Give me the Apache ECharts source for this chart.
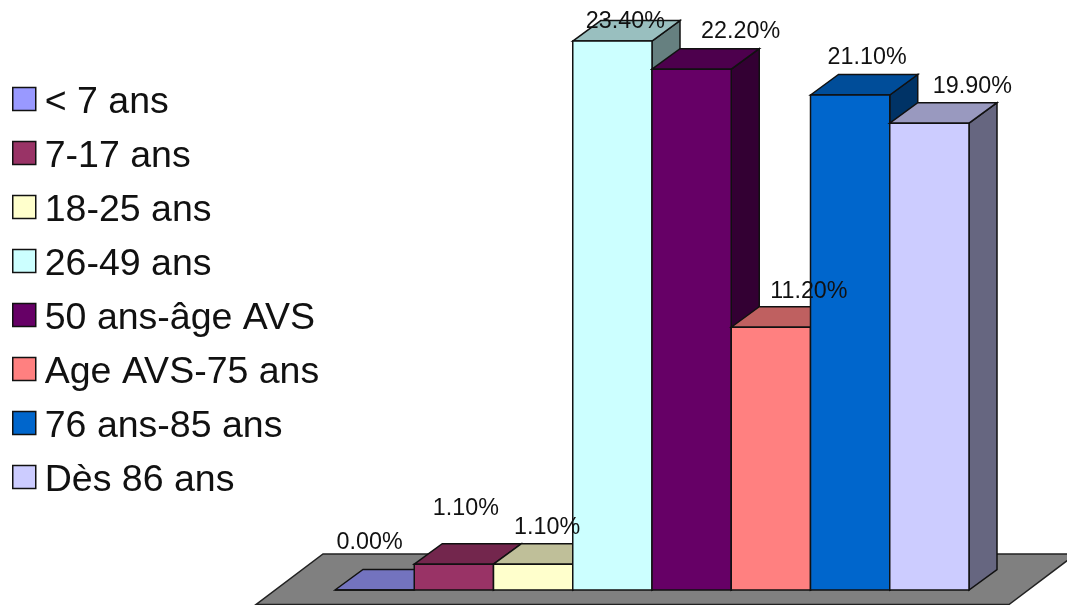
<!DOCTYPE html>
<html>
<head>
<meta charset="utf-8">
<style>html,body{margin:0;padding:0;background:#fff}#c{width:1067px;height:605px}</style>
<script src="https://cdn.jsdelivr.net/npm/echarts@6/dist/echarts.min.js"></script>
</head>
<body>
<div id="c"></div>
<script>
const categories = ['< 7 ans','7-17 ans','18-25 ans','26-49 ans','50 ans-âge AVS','Age AVS-75 ans','76 ans-85 ans','Dès 86 ans'];
const values = [0.0, 1.1, 1.1, 23.4, 22.2, 11.2, 21.1, 19.9];
const valueLabels = ['0.00%','1.10%','1.10%','23.40%','22.20%','11.20%','21.10%','19.90%'];
const colors = ['#9999FF','#993366','#FFFFCC','#CCFFFF','#660066','#FF8080','#0066CC','#CCCCFF'];
// hand placement of each value label, relative to the front-top centre of its bar
const labelNudgeX = [-5, 12, 14, 13, 49, 38, 17, 43];
const labelNudgeY = [-47, -56, -37, -19, -38, -36, -37, -37];

const DEPTH_X = 28, DEPTH_Y = -20.5;
const FONT = '"Liberation Sans", Arial, sans-serif';
const EDGE = '#111';

function shade(hex, f) {
  const n = parseInt(hex.slice(1), 16);
  const c = s => Math.round(((n >> s) & 255) * f);
  return 'rgb(' + c(16) + ',' + c(8) + ',' + c(0) + ')';
}
function poly(points, fill, stroke, w) {
  return { type: 'polygon', shape: { points }, style: { fill, stroke, lineWidth: w } };
}
function barItem(color) {
  return function (params, api) {
    const i = api.value(0), top = api.coord([i, api.value(1)]), base = api.coord([i, 0]);
    const half = api.size([1, 0])[0] / 2;
    const l = top[0] - half, r = top[0] + half, t = top[1], b = base[1];
    const children = [
      poly([[r, t], [r + DEPTH_X, t + DEPTH_Y], [r + DEPTH_X, b + DEPTH_Y], [r, b]], shade(color, 0.5), EDGE, 1.5),
      poly([[l, t], [l + DEPTH_X, t + DEPTH_Y], [r + DEPTH_X, t + DEPTH_Y], [r, t]], shade(color, 0.75), EDGE, 1.5),
      poly([[l, t], [r, t], [r, b], [l, b]], color, EDGE, 1.5)
    ];
    return { type: 'group', children };
  };
}
function floorItem(params, api) {
  const first = api.coord([0, 0]), last = api.coord([categories.length - 1, 0]);
  const half = api.size([1, 0])[0] / 2;
  const l = first[0] - half, r = last[0] + half, b = first[1];
  return poly([
    [l - 79, b + 14.5], [r + 40, b + 14.5],
    [r + 107, b - 36], [l - 12, b - 36]
  ], '#808080', '#222', 1.5);
}
function labelItem(params, api) {
  const i = api.value(0), p = api.coord([i, api.value(1)]);
  return {
    type: 'text',
    style: {
      x: p[0] + labelNudgeX[i], y: p[1] + labelNudgeY[i],
      text: valueLabels[i], align: 'center', verticalAlign: 'middle',
      font: '23.3px ' + FONT, fill: '#111'
    }
  };
}

const points = values.map((v, i) => [i, v]);
const series = [
  { type: 'custom', name: 'floor', z: 1, silent: true, renderItem: floorItem, data: [[0, 0]], encode: { x: 0, y: 1 } }
].concat(categories.map((name, i) => ({
  type: 'custom', name, z: 2, silent: true,
  itemStyle: { color: colors[i] },
  renderItem: barItem(colors[i]),
  data: [points[i]], encode: { x: 0, y: 1 }
}))).concat([
  { type: 'custom', name: 'labels', z: 5, silent: true, renderItem: labelItem, data: points, encode: { x: 0, y: 1 } }
]);

const chart = echarts.init(document.getElementById('c'), null, { renderer: 'canvas' });
chart.setOption({
  animation: false,
  backgroundColor: '#fff',
  grid: { left: 335, width: 634, top: 3.5, height: 586.5 },
  xAxis: { type: 'category', data: categories, show: false },
  yAxis: { type: 'value', min: 0, max: 25, show: false },
  legend: {
    orient: 'vertical', left: 12, top: 76.5, padding: 0,
    itemWidth: 23, itemHeight: 23, itemGap: 9, selectedMode: false,
    formatter: name => '{t|' + name + '}',
    textStyle: {
      fontFamily: FONT, fontSize: 37.5, lineHeight: 30, color: '#111',
      rich: { t: { fontFamily: FONT, fontSize: 37.5, lineHeight: 30, color: '#111', padding: [7, 0, 0, 4] } }
    },
    data: categories.map((name, i) => ({
      name, icon: 'rect',
      itemStyle: { color: colors[i], borderColor: EDGE, borderWidth: 1.5 }
    }))
  },
  series
});
</script>
</body>
</html>
